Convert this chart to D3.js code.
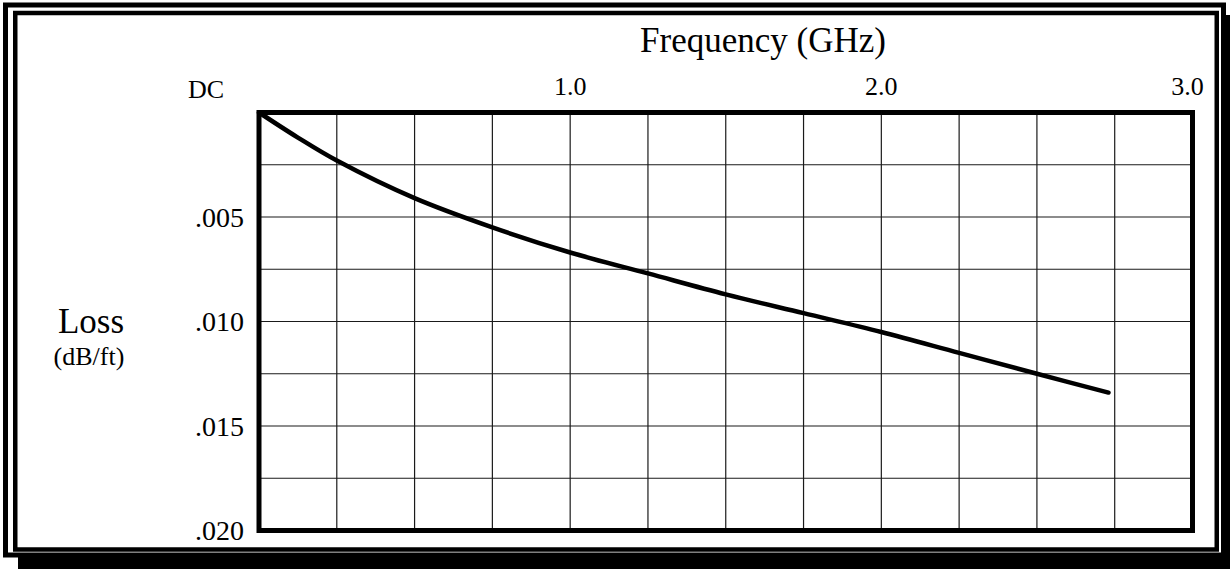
<!DOCTYPE html>
<html>
<head>
<meta charset="utf-8">
<script src="https://cdn.jsdelivr.net/npm/d3@7"></script>
<style>
  html, body { margin: 0; padding: 0; background: #fff; }
  svg { display: block; }
  text { font-family: "Liberation Serif", "DejaVu Serif", serif; fill: #000; }
</style>
</head>
<body>
<svg id="chart" width="1230" height="569"></svg>
<script>
// Data
const freqGHz = [0, 0.125, 0.25, 0.5, 0.75, 1.0, 1.25, 1.5, 1.75, 2.0, 2.25, 2.5, 2.73];
const lossDbFt = [0, 0.0012, 0.0023, 0.0041, 0.0055, 0.0067, 0.0077, 0.0087, 0.0096, 0.0105, 0.0115, 0.0125, 0.0134];
const xTickValues = [0, 1, 2, 3];
const xTickLabels = ["DC", "1.0", "2.0", "3.0"];
const yTickValues = [0.005, 0.010, 0.015, 0.020];
const yTickLabels = [".005", ".010", ".015", ".020"];
const xGridValues = d3.range(0, 3.0001, 0.25);
const yGridValues = d3.range(0, 0.02001, 0.0025);
const titleText = "Frequency (GHz)";
const yTitle = "Loss";
const yUnit = "(dB/ft)";

const svg = d3.select("#chart");
const W = 1230, H = 569;

// Outer decorative frame with shadow
svg.append("rect").attr("x", 18).attr("y", 557).attr("width", W - 18).attr("height", 12).attr("fill", "#000");
svg.append("rect").attr("x", 1226).attr("y", 15).attr("width", 4).attr("height", H - 15).attr("fill", "#000");
svg.append("rect").attr("x", 5.5).attr("y", 5).attr("width", 1218).attr("height", 550)
  .attr("fill", "none").attr("stroke", "#000").attr("stroke-width", 5);
svg.append("rect").attr("x", 15.25).attr("y", 13).attr("width", 1201.5).attr("height", 536.5)
  .attr("fill", "none").attr("stroke", "#000").attr("stroke-width", 4.5);

const x = d3.scaleLinear().domain([0, 3]).range([259, 1192.5]);
const y = d3.scaleLinear().domain([0, 0.02]).range([112.5, 530.5]);

// Grid
const grid = svg.append("g");
grid.selectAll(".vg").data(xGridValues).enter().append("line")
  .attr("x1", d => x(d)).attr("x2", d => x(d))
  .attr("y1", y(0)).attr("y2", y(0.02))
  .attr("stroke", "#1a1a1a").attr("stroke-width", 1.2);
grid.selectAll(".hg").data(yGridValues).enter().append("line")
  .attr("x1", x(0)).attr("x2", x(3))
  .attr("y1", d => y(d)).attr("y2", d => y(d))
  .attr("stroke", "#1a1a1a").attr("stroke-width", 1.2);

// Plot frame
svg.append("rect")
  .attr("x", x(0)).attr("y", y(0))
  .attr("width", x(3) - x(0)).attr("height", y(0.02) - y(0))
  .attr("fill", "none").attr("stroke", "#000").attr("stroke-width", 5);

// Curve
const line = d3.line()
  .x((d, i) => x(freqGHz[i]))
  .y(d => y(d))
  .curve(d3.curveCatmullRom.alpha(0.5));
svg.append("path")
  .datum(lossDbFt)
  .attr("d", line)
  .attr("fill", "none").attr("stroke", "#000")
  .attr("stroke-width", 4.5).attr("stroke-linecap", "round").attr("stroke-linejoin", "round");

// X tick labels (top)
svg.selectAll(".xt").data(xTickValues).enter().append("text")
  .attr("x", (d, i) => i === 0 ? x(d) - 53 : x(d) - (i === 3 ? 5 : 0))
  .attr("y", (d, i) => i === 0 ? 98 : 95)
  .attr("text-anchor", "middle")
  .attr("font-size", 26)
  .text((d, i) => xTickLabels[i]);

// Y tick labels
svg.selectAll(".yt").data(yTickValues).enter().append("text")
  .attr("x", x(0) - 15)
  .attr("y", d => y(d))
  .attr("dy", "0.34em")
  .attr("text-anchor", "end")
  .attr("font-size", 28)
  .text((d, i) => yTickLabels[i]);

// Titles
svg.append("text").attr("x", 763).attr("y", 52).attr("text-anchor", "middle")
  .attr("font-size", 35).text(titleText);
svg.append("text").attr("x", 91).attr("y", 333).attr("text-anchor", "middle")
  .attr("font-size", 35).text(yTitle);
svg.append("text").attr("x", 89).attr("y", 365).attr("text-anchor", "middle")
  .attr("font-size", 26).text(yUnit);
</script>
</body>
</html>
